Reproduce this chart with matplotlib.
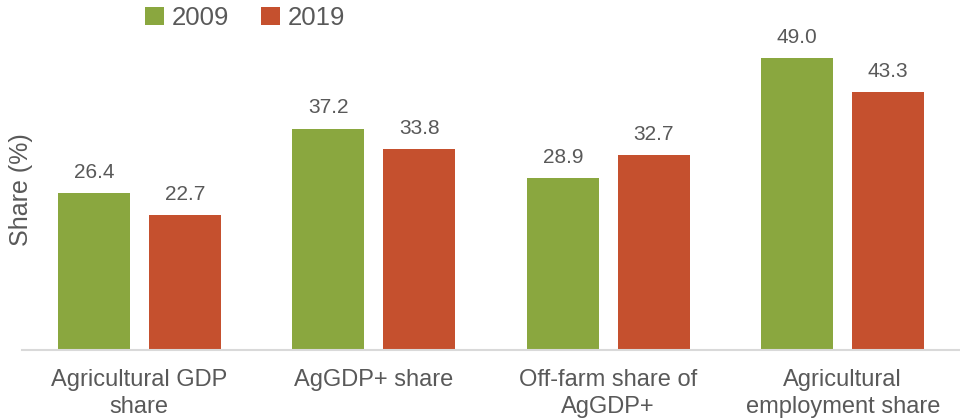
import numpy as np
import matplotlib.pyplot as plt

plt.rcParams['font.family'] = ['Liberation Sans', 'DejaVu Sans']

categories = ["Agricultural GDP\nshare", "AgGDP+ share", "Off-farm share of\nAgGDP+",
              "Agricultural\nemployment share"]
years = ["2009", "2019"]
values_2009 = [26.4, 37.2, 28.9, 49.0]
values_2019 = [22.7, 33.8, 32.7, 43.3]

green = "#8AA73F"
red = "#C5502E"
grey = "#595959"

fig = plt.figure(figsize=(9.6, 4.19), dpi=100)
ax = fig.add_axes([22 / 960, 69.5 / 419, 938 / 960, 326.7 / 419])

x = np.arange(len(categories))
w = 0.307
off = 0.194
b1 = ax.bar(x - off, values_2009, w, color=green, label=years[0])
b2 = ax.bar(x + off, values_2019, w, color=red, label=years[1])

for bars in (b1, b2):
    for r in bars:
        ax.annotate(f"{r.get_height():.1f}", (r.get_x() + r.get_width() / 2, r.get_height()),
                    xytext=(0, 8), textcoords="offset points", ha="center", va="bottom",
                    fontsize=15, color=grey)

ax.set_xlim(-0.5, 3.5)
ax.set_ylim(0, 55)
ax.set_xticks(x)
ax.set_xticklabels(categories, fontsize=17, color=grey, linespacing=1.3)
ax.tick_params(axis="x", length=0, pad=14)
ax.set_yticks([])
for s in ("top", "right", "left"):
    ax.spines[s].set_visible(False)
ax.spines["bottom"].set_color("#D9D9D9")
ax.spines["bottom"].set_linewidth(1.5)

fig.text(21 / 960, 1 - 190 / 419, "Share (%)", rotation=90, ha="center", va="center",
         fontsize=18, color=grey)

fig.legend(loc="center", bbox_to_anchor=(245 / 960, 1 - 18 / 419), ncol=2, frameon=False,
           fontsize=18.5, labelcolor=grey, handlelength=0.75, handleheight=0.75,
           handletextpad=0.3, columnspacing=1.25)

fig.savefig("out.png", dpi=100)
